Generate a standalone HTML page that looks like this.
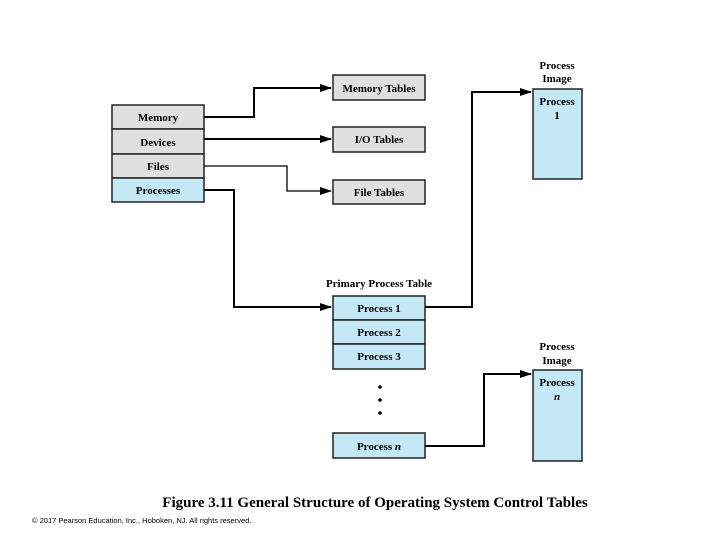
<!DOCTYPE html>
<html><head><style>
body{margin:0;width:720px;height:540px;background:#fff;overflow:hidden}
</style></head><body>
<svg width="720" height="540" xmlns="http://www.w3.org/2000/svg" font-family="Liberation Serif, serif" font-weight="bold" font-size="11">
<defs><marker id="a" markerWidth="12" markerHeight="8" refX="11" refY="4" orient="auto" markerUnits="userSpaceOnUse"><path d="M0,0 L12,4 L0,8 z" fill="#000"/></marker></defs>
<g stroke="#222" stroke-width="1.5">
<rect x="112" y="105" width="92" height="24" fill="#e0e0e0"/>
<rect x="112" y="129" width="92" height="25" fill="#e0e0e0"/>
<rect x="112" y="154" width="92" height="24" fill="#e0e0e0"/>
<rect x="112" y="178" width="92" height="24" fill="#c5e8f7"/>
<rect x="333" y="75" width="92" height="25" fill="#e0e0e0"/>
<rect x="333" y="127" width="92" height="25" fill="#e0e0e0"/>
<rect x="333" y="180" width="92" height="24" fill="#e0e0e0"/>
<rect x="333" y="296" width="92" height="24" fill="#c5e8f7"/>
<rect x="333" y="320" width="92" height="24" fill="#c5e8f7"/>
<rect x="333" y="344" width="92" height="25" fill="#c5e8f7"/>
<rect x="333" y="433" width="92" height="25" fill="#c5e8f7"/>
<rect x="533" y="89" width="49" height="90" fill="#c5e8f7"/>
<rect x="533" y="370" width="49" height="91" fill="#c5e8f7"/>
</g>
<g stroke="#000" stroke-width="2" fill="none" marker-end="url(#a)">
<path d="M204,117 H254 V88 H331"/>
<path d="M204,139 H331"/>
<path d="M204,166 H287 V191 H331" stroke-width="1.3"/>
<path d="M204,190 H234 V307 H331"/>
<path d="M425,307 H472 V92 H531"/>
<path d="M425,446 H484 V374 H531"/>
</g>
<g fill="#000"><circle cx="380" cy="387" r="1.8"/><circle cx="380" cy="400" r="1.8"/><circle cx="380" cy="413" r="1.8"/></g>
<g text-anchor="middle">
<text x="158" y="121">Memory</text>
<text x="158" y="146">Devices</text>
<text x="158" y="170">Files</text>
<text x="158" y="194">Processes</text>
<text x="379" y="92">Memory Tables</text>
<text x="379" y="143">I/O Tables</text>
<text x="379" y="196">File Tables</text>
<text x="379" y="287">Primary Process Table</text>
<text x="379" y="312">Process 1</text>
<text x="379" y="336">Process 2</text>
<text x="379" y="360">Process 3</text>
<text x="379" y="450">Process <tspan font-style="italic">n</tspan></text>
<text x="557" y="69">Process</text><text x="557" y="82">Image</text>
<text x="557" y="105">Process</text><text x="557" y="119">1</text>
<text x="557" y="350">Process</text><text x="557" y="364">Image</text>
<text x="557" y="386">Process</text><text x="557" y="400" font-style="italic">n</text>
<text x="375" y="507" font-size="15">Figure 3.11  General Structure of Operating System Control Tables</text>
</g>
<text x="32" y="523" font-family="Liberation Sans, sans-serif" font-weight="normal" font-size="7.5">© 2017 Pearson Education, Inc., Hoboken, NJ. All rights reserved.</text>
</svg>
</body></html>
